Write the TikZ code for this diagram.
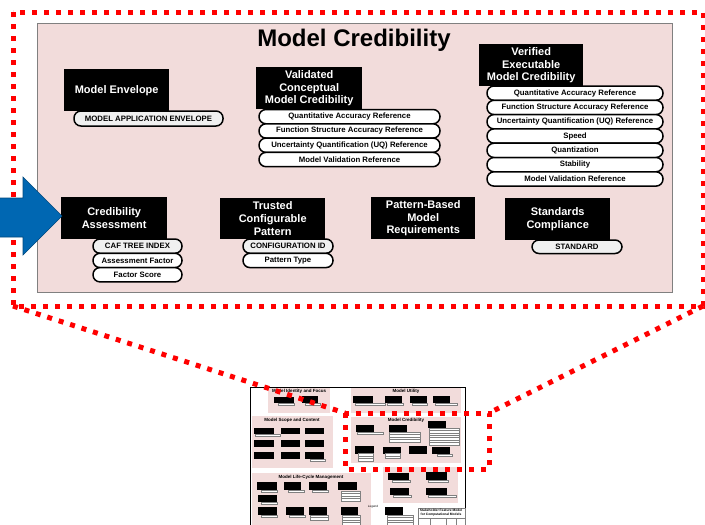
\documentclass[tikz,border=0pt]{standalone}
\usepackage{fontspec}
\setmainfont{Liberation Sans}
\usetikzlibrary{positioning}

\definecolor{panelpink}{RGB}{242,220,219}
\definecolor{arrowblue}{RGB}{0,103,178}
\definecolor{zoomred}{RGB}{255,0,0}

\tikzset{
  featbox/.style={fill=black, text=white, align=center, inner sep=0pt, anchor=north west,
    font=\bfseries\fontsize{11}{12.8}\selectfont},
  attr/.style={draw=black, line width=1.5pt, fill=white, rounded corners=7pt, inner sep=0pt,
    outer sep=0pt, minimum height=14.3pt, font=\bfseries\fontsize{7.8}{9}\selectfont},
  keyattr/.style={attr, fill=gray!12},
  zoomline/.style={draw=zoomred, line width=5pt, dash pattern=on 5pt off 7pt},
  thumbsec/.style={fill=panelpink},
  thumbpill/.style={draw=gray, line width=0.3pt, fill=white},
  thumbtitle/.style={font=\bfseries\fontsize{4.5}{5}\selectfont, inner sep=0pt},
}

\begin{document}
\begin{tikzpicture}[x=1pt, y=-1pt]
  \useasboundingbox (0,0) rectangle (705,525);

  % thumbnail of the whole feature model
  \draw[line width=0.8pt] (250,527) -- (250,387) -- (465,387) -- (465,527);
  \foreach \xa/\ya/\xb/\yb in {268/388/330/413, 351/388/461/413, 252/416/333/468,
      351/417/461/463, 252/473/371/527, 383/467/458/503}
    \fill[thumbsec] (\xa,\ya) rectangle (\xb,\yb);
  \node[thumbtitle] (tIdent) at (299,391) {Model Identity and Focus};
  \node[thumbtitle] (tUtil) at (406,391) {Model Utility};
  \node[thumbtitle] (tScope) at (292,420) {Model Scope and Content};
  \node[thumbtitle] (tCred) at (406,420) {Model Credibility};
  \node[thumbtitle] (tLife) at (311,477) {Model Life-Cycle Management};
  \node[font=\fontsize{3}{3.5}\selectfont, inner sep=0pt] (tLegend) at (373,507) {Legend};
  \foreach \xa/\ya/\xb/\yb in {274/397/294/403, 302/396/318/403,
      353/396/373/403, 385/396/402/403, 410/396/427/403, 433/396/450/403,
      254/428/274/434, 281/428/300/434, 305/428/324/434, 254/440/274/447, 281/440/300/447,
      305/440/324/447, 254/452/274/459, 281/452/300/459, 305/452/324/459,
      355.7/425/374/432, 388.6/424.6/407/431.8, 427.5/420.6/445.5/427.8, 355.2/446.4/373.5/453.6,
      382.7/446.6/400.8/453.6, 408.7/446.4/426.7/453.6, 431.8/446.6/450/453.8,
      257/482/277/490, 284/482/301/490, 309/482/327/490, 338/482/357/490, 258/495/277/502,
      258/507/277/515, 286/507/304/515, 309/507/327/515, 341/507/358/515,
      388/473/409/480, 426/472/447/480, 390/488/409/495, 426/488/447/495, 385/507/403/515}
    \fill[black] (\xa,\ya) rectangle (\xb,\yb);
  % pill stacks: x/y/width/count
  \foreach \x/\y/\w/\n in {278/403/16/1, 305/403/15/1, 355/403/30/1, 387/403/16/1, 412/403/15/1,
      435/403/22/1, 255/434/25/1, 310/459/15/1,
      357.4/432/26/1, 389/432/31/4, 428.9/427.8/30.4/7, 357.7/453.6/15.4/3, 385/453.6/15.6/2,
      437/453.8/15.6/1,
      261/490/16/1, 288/490/16/1, 312/490/16/1, 341/491/19/4, 261/502/16/1, 261/515/16/1,
      289/515/16/1, 310/515/18/2, 342/515/18/4,
      392/480/18/1, 428/480/20/1, 393/495/18/1, 428/495/28/1, 387/515/26/4}
    \foreach \k in {1,...,\n}
      \draw[thumbpill] (\x,{\y+(\k-1)*2.45}) rectangle ++(\w,2.45);
  \draw[fill=white, draw=gray, line width=0.4pt] (418,508) rectangle (465,527);
  \node[font=\bfseries\fontsize{3.3}{4}\selectfont, align=center, inner sep=0pt] (tTitle)
    at (441,513) {Stakeholder Feature Model\\for Computational Models};
  \draw[gray, line width=0.3pt] (418,518) -- (465,518) (430,518) -- (430,527)
    (446,518) -- (446,527) (456,518) -- (456,527);

  % zoom frames
  \coordinate (zoomA) at (13,12);
  \coordinate (zoomB) at (703,306);
  \coordinate (thumbA) at (345,413);
  \coordinate (thumbB) at (489,469);
  \draw[zoomline] (zoomA |- zoomB) -- (thumbA);
  \draw[zoomline] (zoomB) -- (thumbB |- thumbA);
  \draw[zoomline] (thumbA) rectangle (thumbB);
  \draw[zoomline] (zoomA) rectangle (zoomB);

  % Model Credibility panel
  \draw[fill=panelpink, draw=gray, line width=0.8pt] (37,23) rectangle (672,292);
  \node[font=\bfseries\fontsize{24}{28}\selectfont] (title) at (354,40) {Model Credibility};

  \node[featbox, minimum width=105pt, minimum height=42pt] (env) at (64,69) {Model Envelope};
  \node[keyattr, anchor=north west, minimum width=149pt, minimum height=15pt] (envA) at (74,111)
    {MODEL APPLICATION ENVELOPE};

  \node[featbox, minimum width=106pt, minimum height=42pt] (vcmc) at (256,67)
    {Validated\\Conceptual\\Model Credibility};
  \node[attr, anchor=north west, minimum width=181pt] (vcmcA) at (259,109.5) {Quantitative Accuracy Reference};
  \node[attr, minimum width=181pt, below=0pt of vcmcA] (vcmcB) {Function Structure Accuracy Reference};
  \node[attr, minimum width=181pt, below=0pt of vcmcB] (vcmcC) {Uncertainty Quantification (UQ) Reference};
  \node[attr, minimum width=181pt, below=0pt of vcmcC] (vcmcD) {Model Validation Reference};

  \node[featbox, minimum width=104pt, minimum height=42pt] (vemc) at (479,44)
    {Verified\\Executable\\Model Credibility};
  \node[attr, anchor=north west, minimum width=176pt] (vemcA) at (487,86) {Quantitative Accuracy Reference};
  \node[attr, minimum width=176pt, below=0pt of vemcA] (vemcB) {Function Structure Accuracy Reference};
  \node[attr, minimum width=176pt, below=0pt of vemcB] (vemcC) {Uncertainty Quantification (UQ) Reference};
  \node[attr, minimum width=176pt, below=0pt of vemcC] (vemcD) {Speed};
  \node[attr, minimum width=176pt, below=0pt of vemcD] (vemcE) {Quantization};
  \node[attr, minimum width=176pt, below=0pt of vemcE] (vemcF) {Stability};
  \node[attr, minimum width=176pt, below=0pt of vemcF] (vemcG) {Model Validation Reference};

  \node[featbox, minimum width=106pt, minimum height=42pt] (cas) at (61,197)
    {Credibility\\Assessment};
  \node[keyattr, anchor=north west, minimum width=89pt] (casA) at (93,239) {CAF TREE INDEX};
  \node[attr, minimum width=89pt, below=0pt of casA] (casB) {Assessment Factor};
  \node[attr, minimum width=89pt, below=0pt of casB] (casC) {Factor Score};

  \node[featbox, minimum width=105pt, minimum height=41pt] (tcp) at (220,198)
    {Trusted\\Configurable\\Pattern};
  \node[keyattr, anchor=north west, minimum width=90pt] (tcpA) at (243,239) {CONFIGURATION ID};
  \node[attr, minimum width=90pt, below=0pt of tcpA] (tcpB) {Pattern Type};

  \node[featbox, minimum width=104pt, minimum height=42pt] (pbmr) at (371,197)
    {Pattern-Based\\Model\\Requirements};

  \node[featbox, minimum width=105pt, minimum height=42pt] (stdc) at (505,198)
    {Standards\\Compliance};
  \node[keyattr, anchor=north west, minimum width=90pt, minimum height=13.5pt] (stdcA) at (532,240)
    {STANDARD};

  % input arrow
  \draw[fill=arrowblue, draw=arrowblue!70!black, line width=0.6pt]
    (-2,198) -- (23,198) -- (23,177) -- (62,216) -- (23,255) -- (23,237) -- (-2,237) -- cycle;
\end{tikzpicture}
\end{document}
